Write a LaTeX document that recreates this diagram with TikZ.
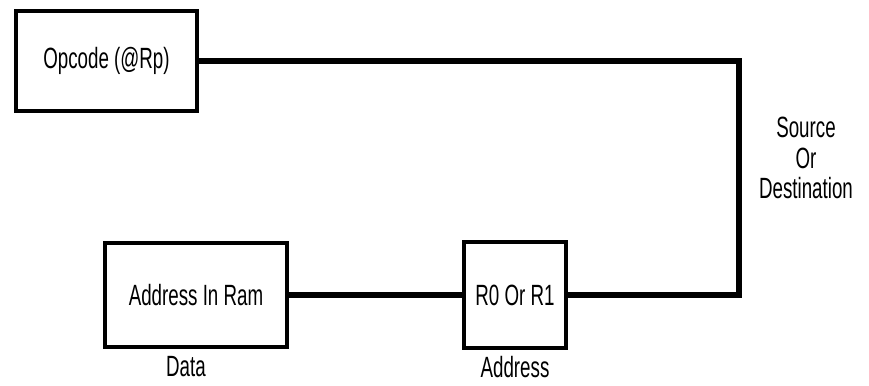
\documentclass[tikz,border=0pt]{standalone}
\usepackage{fontspec}
\setmainfont{Liberation Sans}
\usetikzlibrary{positioning}
\newcommand{\narrow}[1]{\scalebox{0.64}[1]{#1}}
\tikzset{
  blk/.style={draw,line width=3.2pt,inner sep=0pt},
  wire/.style={line width=4.4pt},
  lbl/.style={font=\fontsize{25}{26}\selectfont,inner sep=0pt}
}
\begin{document}
\begin{tikzpicture}[x=0.03cm,y=-0.03cm]
\useasboundingbox (0,0) rectangle (869,385);
\node[blk,lbl,minimum width=5.43cm,minimum height=3cm] (opc) at (106.5,61) {\narrow{Opcode (@Rp)}};
\node[blk,lbl,minimum width=5.46cm,minimum height=3.12cm] (ram) at (196,295) {\narrow{Address In Ram}};
\node[blk,lbl,minimum width=3.06cm,minimum height=3.18cm] (reg) at (515,295) {\narrow{R0 Or R1}};
\coordinate (bend) at (739,180);
\draw[wire] (opc.east) -| (bend) |- (reg.east);
\draw[wire] (ram.east) -- (reg.west);
\node[lbl] (dat) at (186,367) {\narrow{Data}};
\node[lbl] (adr) at (515,367) {\narrow{Address}};
\node[lbl,align=center] (src) at (806,158) {\narrow{Source}\\\narrow{Or}\\\narrow{Destination}};
\end{tikzpicture}
\end{document}
